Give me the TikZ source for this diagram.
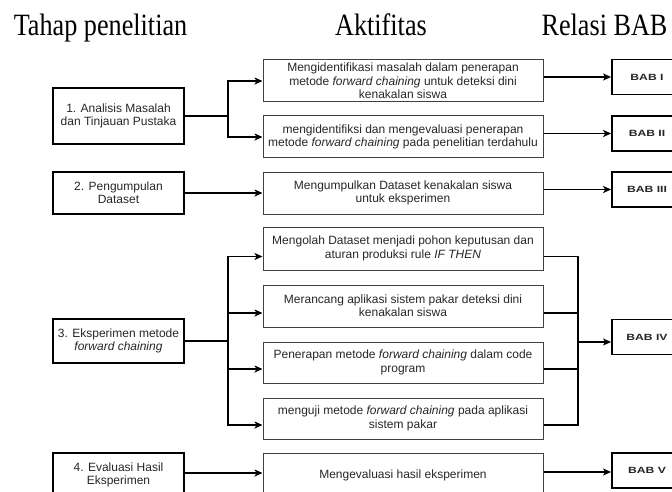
\documentclass[tikz,border=0pt]{standalone}
\usepackage{fontspec}
\setmainfont{Liberation Serif}
\newfontfamily\boxfont{Liberation Sans}
\usetikzlibrary{arrows.meta}
\tikzset{
  hdr/.style={anchor=base,font=\fontsize{31}{31}\selectfont},
  leftbox/.style={draw=black,line width=1.2pt,rectangle,inner sep=0pt,minimum width=131pt,
    align=center,font=\boxfont\fontsize{12}{13.3}\selectfont,text=black!85},
  actbox/.style={draw=black!75,line width=1pt,rectangle,inner sep=0pt,minimum width=280pt,
    align=center,font=\boxfont\fontsize{12}{13.3}\selectfont,text=black!85},
  babbox/.style={draw=black,line width=1.8pt,rectangle,inner sep=0pt,minimum width=70pt,minimum height=35pt,
    font=\boxfont\bfseries\fontsize{9}{9}\selectfont,text=black!85},
  arr/.style={draw=black,line width=1.4pt,-{Stealth[length=8pt,width=7pt,inset=2pt]}},
  ln/.style={draw=black,line width=1.4pt},
}
\newcommand{\hx}[1]{\scalebox{0.845}[1]{#1}}
\newcommand{\bx}[1]{\scalebox{1.35}[1]{#1}}
\begin{document}
\begin{tikzpicture}[x=1pt,y=-1pt]
\useasboundingbox (0,0) rectangle (672,492);
% headers
\node[hdr] (h1) at (100.5,36) {\hx{Tahap penelitian}};
\node[hdr] (h2) at (381,36) {\hx{Aktifitas}};
\node[hdr] (h3) at (604.5,36) {\hx{Relasi BAB}};
% left boxes
\node[leftbox,minimum height=56pt] (L1) at (118.5,116) {1. Analisis Masalah\\dan Tinjauan Pustaka};
\node[leftbox,minimum height=42pt] (L2) at (118.5,193) {2. Pengumpulan\\Dataset};
\node[leftbox,minimum height=44pt] (L3) at (118.5,341) {3. Eksperimen metode\\\textit{forward chaining}};
\node[leftbox,minimum height=44pt] (L4) at (118.5,475) {4. Evaluasi Hasil\\Eksperimen};
% activity boxes
\node[actbox,minimum height=42pt] (A1) at (403,81) {Mengidentifikasi masalah dalam penerapan\\metode \textit{forward chaining} untuk deteksi dini\\kenakalan siswa};
\node[actbox,minimum height=42pt] (A2) at (403,137) {mengidentifiksi dan mengevaluasi penerapan\\metode \textit{forward chaining} pada penelitian terdahulu};
\node[actbox,minimum height=42pt] (A3) at (403,193) {Mengumpulkan Dataset kenakalan siswa\\untuk eksperimen};
\node[actbox,minimum height=43pt] (A4) at (403,248.5) {Mengolah Dataset menjadi pohon keputusan dan\\aturan produksi rule \textit{IF THEN}};
\node[actbox,minimum height=42pt] (A5) at (403,306) {Merancang aplikasi sistem pakar deteksi dini\\kenakalan siswa};
\node[actbox,minimum height=41pt] (A6) at (403,362.5) {Penerapan metode \textit{forward chaining} dalam code\\program};
\node[actbox,minimum height=41pt] (A7) at (403,418.5) {menguji metode \textit{forward chaining} pada aplikasi\\sistem pakar};
\node[actbox,minimum height=44pt] (A8) at (403,475) {Mengevaluasi hasil eksperimen};
% BAB boxes
\node[babbox] (B1) at (647,77) {\bx{BAB I}};
\node[babbox] (B2) at (647,133.5) {\bx{BAB II}};
\node[babbox] (B3) at (647,189.5) {\bx{BAB III}};
\node[babbox] (B4) at (647,337) {\bx{BAB IV}};
\node[babbox] (B5) at (647,470.5) {\bx{BAB V}};
% branch points
\coordinate (j1) at (228,116);
\coordinate (j3) at (228,341);
\coordinate (m4) at (578,342);
% left connectors
\draw[ln] (L1.east) -- (j1);
\draw[arr] (j1) |- (A1.west);
\draw[arr] (j1) |- (A2.west);
\draw[arr] (L2.east) -- (A3.west);
\draw[ln] (L3.east) -- (j3);
\draw[arr] (j3) |- ([yshift=-8pt]A4.west);
\draw[arr] (j3) |- ([yshift=-7pt]A5.west);
\draw[arr] (j3) |- ([yshift=-6.5pt]A6.west);
\draw[arr] (j3) |- ([yshift=-6.5pt]A7.west);
\draw[arr] (L4.east |- A8.west) ++(0,-2) -- ([yshift=2pt]A8.west);
% right connectors
\draw[arr] (A1.east |- B1.west) -- (B1.west);
\draw[arr] (A2.east |- B2.west) -- (B2.west);
\draw[arr] (A3.east |- B3.west) -- (B3.west);
\draw[ln] ([yshift=-8pt]A4.east) -| (m4);
\draw[ln] ([yshift=-7pt]A5.east) -| (m4);
\draw[ln] ([yshift=-6.5pt]A6.east) -| (m4);
\draw[ln] ([yshift=-6.5pt]A7.east) -| (m4);
\draw[arr] (m4) -- (m4 -| B4.west);
\draw[arr] (A8.east |- B5.west) ++(0,1.5) -- ([yshift=-1.5pt]B5.west);
\end{tikzpicture}
\end{document}
